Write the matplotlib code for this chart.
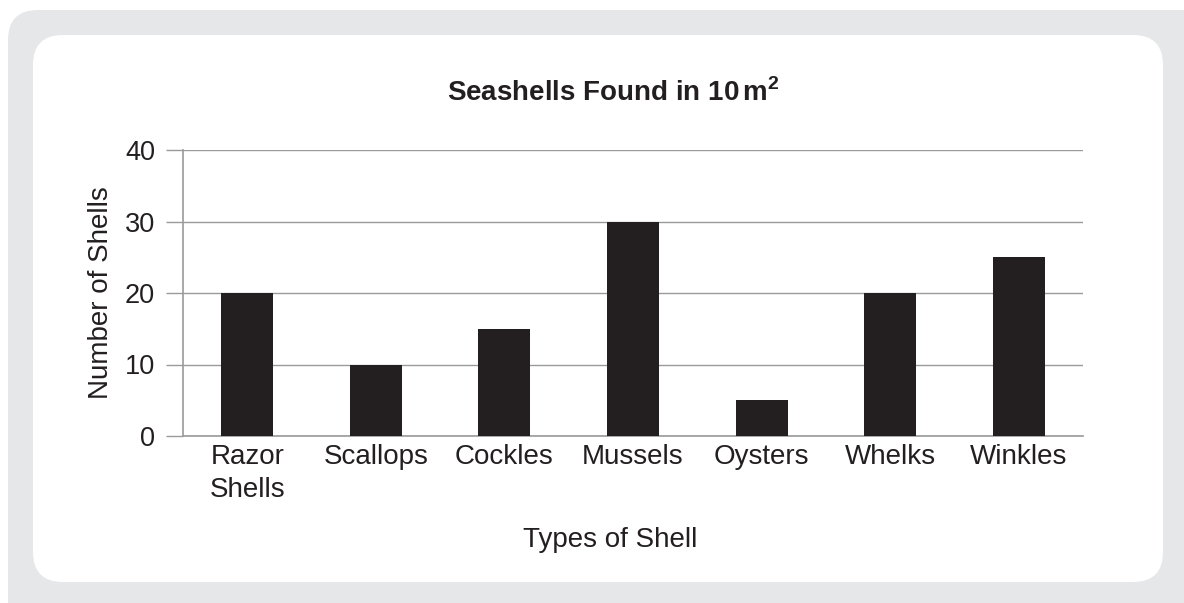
import matplotlib.pyplot as plt
from matplotlib.patches import FancyBboxPatch

# data
shell_types = ['Razor\nShells', 'Scallops', 'Cockles', 'Mussels', 'Oysters', 'Whelks', 'Winkles']
shell_counts = [20, 10, 15, 30, 5, 20, 25]
y_ticks = [0, 10, 20, 30, 40]

W, H = 1184, 603
DPI = 100
TEXT = '#231f20'
GRID = '#9a9a9a'

plt.rcParams['font.family'] = ['Liberation Sans', 'DejaVu Sans']
plt.rcParams['mathtext.fontset'] = 'custom'
plt.rcParams['mathtext.rm'] = 'Liberation Sans'
plt.rcParams['mathtext.bf'] = 'Liberation Sans:bold'

fig = plt.figure(figsize=(W / DPI, H / DPI), dpi=DPI, facecolor='white')


def px_box(x0, y0, x1, y1, r, color):
    """rounded box given in image pixels (y down)"""
    box = FancyBboxPatch(((x0 + r) / DPI, (H - y1 + r) / DPI),
                         (x1 - x0 - 2 * r) / DPI, (y1 - y0 - 2 * r) / DPI,
                         boxstyle=f'round,pad={r / DPI},rounding_size={r / DPI}',
                         transform=fig.dpi_scale_trans, facecolor=color,
                         edgecolor='none', zorder=-10)
    fig.patches.append(box)


# grey frame and white card
px_box(8, 10, 1230, 660, 30, '#e6e7e8')
px_box(33, 35, 1163, 582, 30, 'white')

ax_l, ax_r, ax_t, ax_b = 183, 1083, 150, 436
ax = fig.add_axes([ax_l / W, (H - ax_b) / H, (ax_r - ax_l) / W, (ax_b - ax_t) / H])
ax.set_facecolor('none')

x = range(len(shell_types))
ax.bar(x, shell_counts, width=0.405, color=TEXT, zorder=3)

ax.set_xlim(-0.5, len(shell_types) - 0.5)
ax.set_ylim(0, 40)
ax.set_yticks(y_ticks)
ax.set_xticks(list(x))
ax.set_xticklabels(shell_types, fontsize=20, color=TEXT, linespacing=1.35)
ax.tick_params(axis='x', length=0, pad=6)
ax.tick_params(axis='y', length=12, width=1, color=GRID, labelsize=19.5,
               labelcolor=TEXT, pad=8)
ax.yaxis.grid(True, color=GRID, linewidth=1, zorder=0)

for side in ['top', 'right']:
    ax.spines[side].set_visible(False)
for side in ['left', 'bottom']:
    ax.spines[side].set_color(GRID)
    ax.spines[side].set_linewidth(1.2)

fig.text(101 / W, 1 - (ax_t + ax_b) / 2 / H, 'Number of Shells', fontsize=20,
         color=TEXT, rotation=90, ha='center', va='center')
fig.text(610 / W, 1 - 540 / H, 'Types of Shell', fontsize=20,
         color=TEXT, ha='center', va='center')
fig.text(613 / W, 1 - 93 / H, r'Seashells Found in 10$\,$m$^{\mathbf{2}}$',
         fontsize=20, fontweight='bold', color=TEXT, ha='center', va='center')

fig.savefig('out.png', dpi=DPI, facecolor='white')
